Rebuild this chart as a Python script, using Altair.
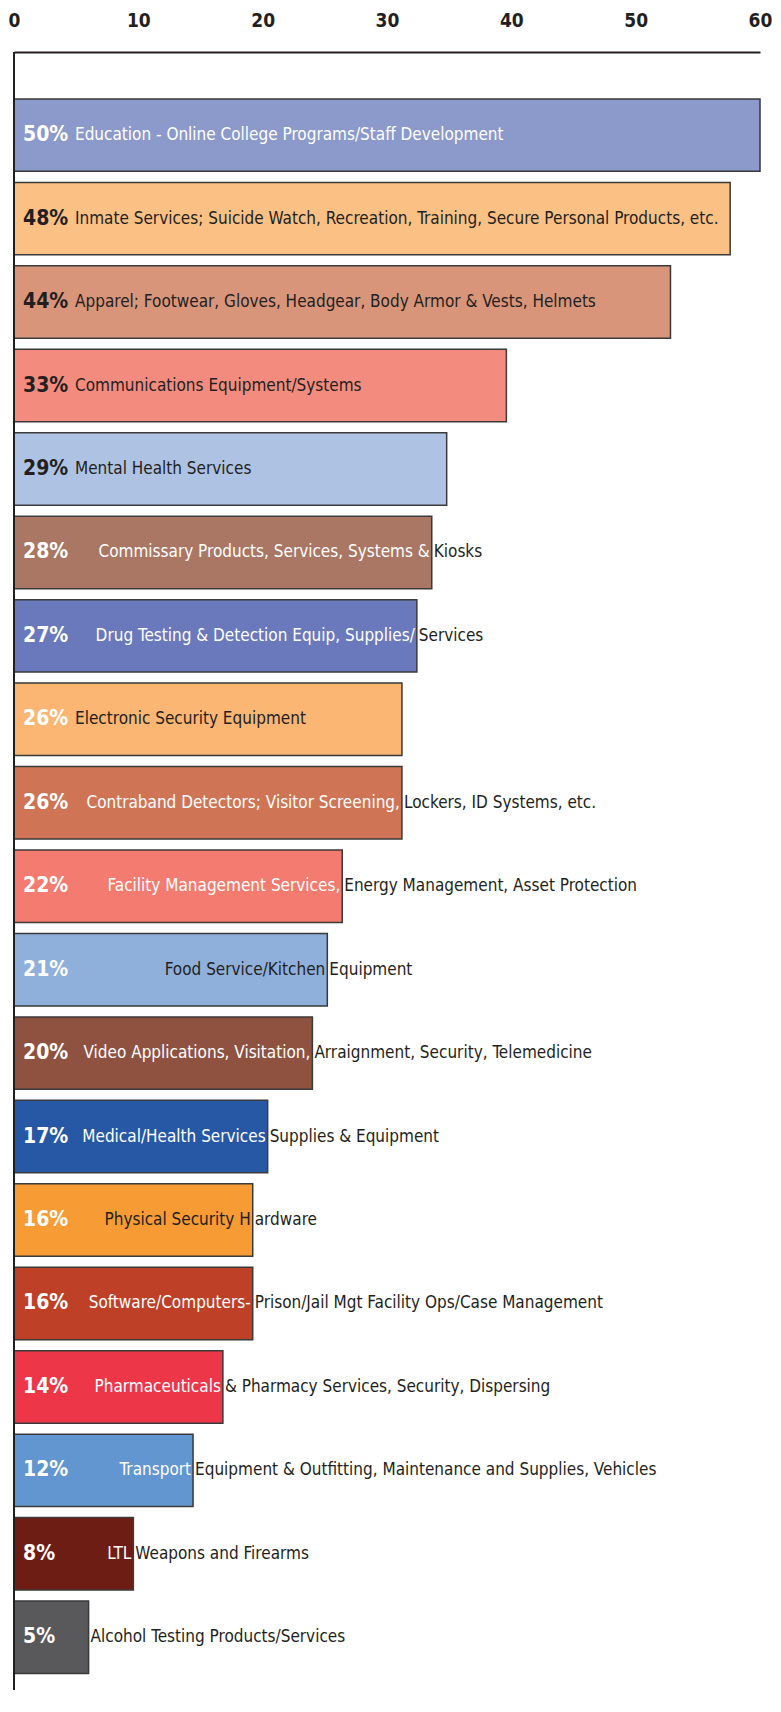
import altair as alt
import pandas as pd

# ---- data ----
percent_labels = ["50%", "48%", "44%", "33%", "29%", "28%", "27%", "26%", "26%", "22%",
                  "21%", "20%", "17%", "16%", "16%", "14%", "12%", "8%", "5%"]
bar_values = [60.0, 57.6, 52.8, 39.6, 34.8, 33.6, 32.4, 31.2, 31.2, 26.4,
              25.2, 24.0, 20.4, 19.2, 19.2, 16.8, 14.4, 9.6, 6.0]
inside_text = [
    "Education - Online College Programs/Staff Development",
    "Inmate Services; Suicide Watch, Recreation, Training, Secure Personal Products, etc.",
    "Apparel; Footwear, Gloves, Headgear, Body Armor & Vests, Helmets",
    "Communications Equipment/Systems",
    "Mental Health Services",
    "Commissary Products, Services, Systems &",
    "Drug Testing & Detection Equip, Supplies/",
    "Electronic Security Equipment",
    "Contraband Detectors; Visitor Screening,",
    "Facility Management Services,",
    "Food Service/Kitchen",
    "Video Applications, Visitation,",
    "Medical/Health Services",
    "Physical Security H",
    "Software/Computers-",
    "Pharmaceuticals",
    "Transport",
    "LTL",
    "",
]
outside_text = [
    "", "", "", "", "",
    "Kiosks",
    "Services",
    "",
    "Lockers, ID Systems, etc.",
    "Energy Management, Asset Protection",
    "Equipment",
    "Arraignment, Security, Telemedicine",
    "Supplies & Equipment",
    "ardware",
    "Prison/Jail Mgt Facility Ops/Case Management",
    "& Pharmacy Services, Security, Dispersing",
    "Equipment & Outfitting, Maintenance and Supplies, Vehicles",
    "Weapons and Firearms",
    "Alcohol Testing Products/Services",
]
x_ticks = [0, 10, 20, 30, 40, 50, 60]

# ---- styles ----
bar_colors = ["#8B99CB", "#FBC184", "#D9957A", "#F38C7E", "#AEC3E3", "#A97763", "#6979BC",
              "#FBB674", "#CF7556", "#F47B6F", "#8FB0DB", "#8F5241", "#2758A6", "#F79C35",
              "#BE4027", "#EE3649", "#6196D0", "#6E1D14", "#59595B"]
DARK = "#231F20"
WHITE = "#FFFFFF"
pct_color = [WHITE, DARK, DARK, DARK, DARK] + [WHITE] * 14
inside_color = [WHITE, DARK, DARK, DARK, DARK, WHITE, WHITE, DARK, WHITE, WHITE,
                DARK, WHITE, WHITE, DARK, WHITE, WHITE, WHITE, WHITE, WHITE]

FONT = "DejaVu Sans Condensed, Liberation Sans Narrow, sans-serif"
W, H = 746, 1638
TXT = 17

rows = [f"{i:02d}" for i in range(len(bar_values))]
df = pd.DataFrame({
    "row": rows,
    "value": bar_values,
    "pct": percent_labels,
    "outside": outside_text,
    "pct_color": pct_color,
    "in_color": inside_color,
})
df["in_left"] = [t if o == "" else "" for t, o in zip(inside_text, outside_text)]
df["in_right"] = [t if o != "" else "" for t, o in zip(inside_text, outside_text)]

# band layout: bars 72px tall on an ~83px step, first bar 47px below the axis
y_enc = alt.Y("row:N", sort=None, axis=None,
              scale=alt.Scale(paddingInner=0.132, paddingOuter=0.38, align=0.74))
x_scale = alt.Scale(domain=[0, 60], nice=False, zero=True)

base = alt.Chart(df)

bars = base.mark_bar(stroke="#3a3a3a", strokeWidth=1.5, opacity=1).encode(
    x=alt.X("value:Q", scale=x_scale,
            axis=alt.Axis(orient="top", values=x_ticks, title=None, grid=False, ticks=False,
                          domainColor=DARK, domainWidth=2, labelPadding=22,
                          labelFont=FONT, labelFontSize=19, labelFontWeight="bold",
                          labelColor=DARK, labelFlush=False)),
    y=y_enc,
    color=alt.Color("row:N", scale=alt.Scale(domain=rows, range=bar_colors), legend=None),
)

pct = base.mark_text(align="left", baseline="middle", font=FONT, fontSize=21,
                     fontWeight="bold").encode(
    x=alt.value(9), y=y_enc, text="pct:N",
    color=alt.Color("pct_color:N", scale=None),
)

in_left = base.mark_text(align="left", baseline="middle", font=FONT, fontSize=TXT).encode(
    x=alt.value(61), y=y_enc, text="in_left:N",
    color=alt.Color("in_color:N", scale=None),
)

in_right = base.mark_text(align="right", baseline="middle", font=FONT, fontSize=TXT, dx=-2).encode(
    x=alt.X("value:Q", scale=x_scale), y=y_enc, text="in_right:N",
    color=alt.Color("in_color:N", scale=None),
)

out = base.mark_text(align="left", baseline="middle", font=FONT, fontSize=TXT, dx=2,
                     color=DARK).encode(
    x=alt.X("value:Q", scale=x_scale), y=y_enc, text="outside:N",
)

vline = alt.Chart(pd.DataFrame({"a": [0]})).mark_rule(color=DARK, strokeWidth=2).encode(
    x=alt.value(0), y=alt.value(0), y2=alt.value(H)
)

chart = alt.layer(bars, pct, in_left, in_right, out, vline).properties(
    width=W, height=H,
    autosize=alt.AutoSizeParams(type="none"),
    padding={"left": 6, "top": 44, "right": 13, "bottom": 0},
).configure_view(stroke=None)

chart.save("out.html", embed_options={"renderer": "svg", "actions": False})
